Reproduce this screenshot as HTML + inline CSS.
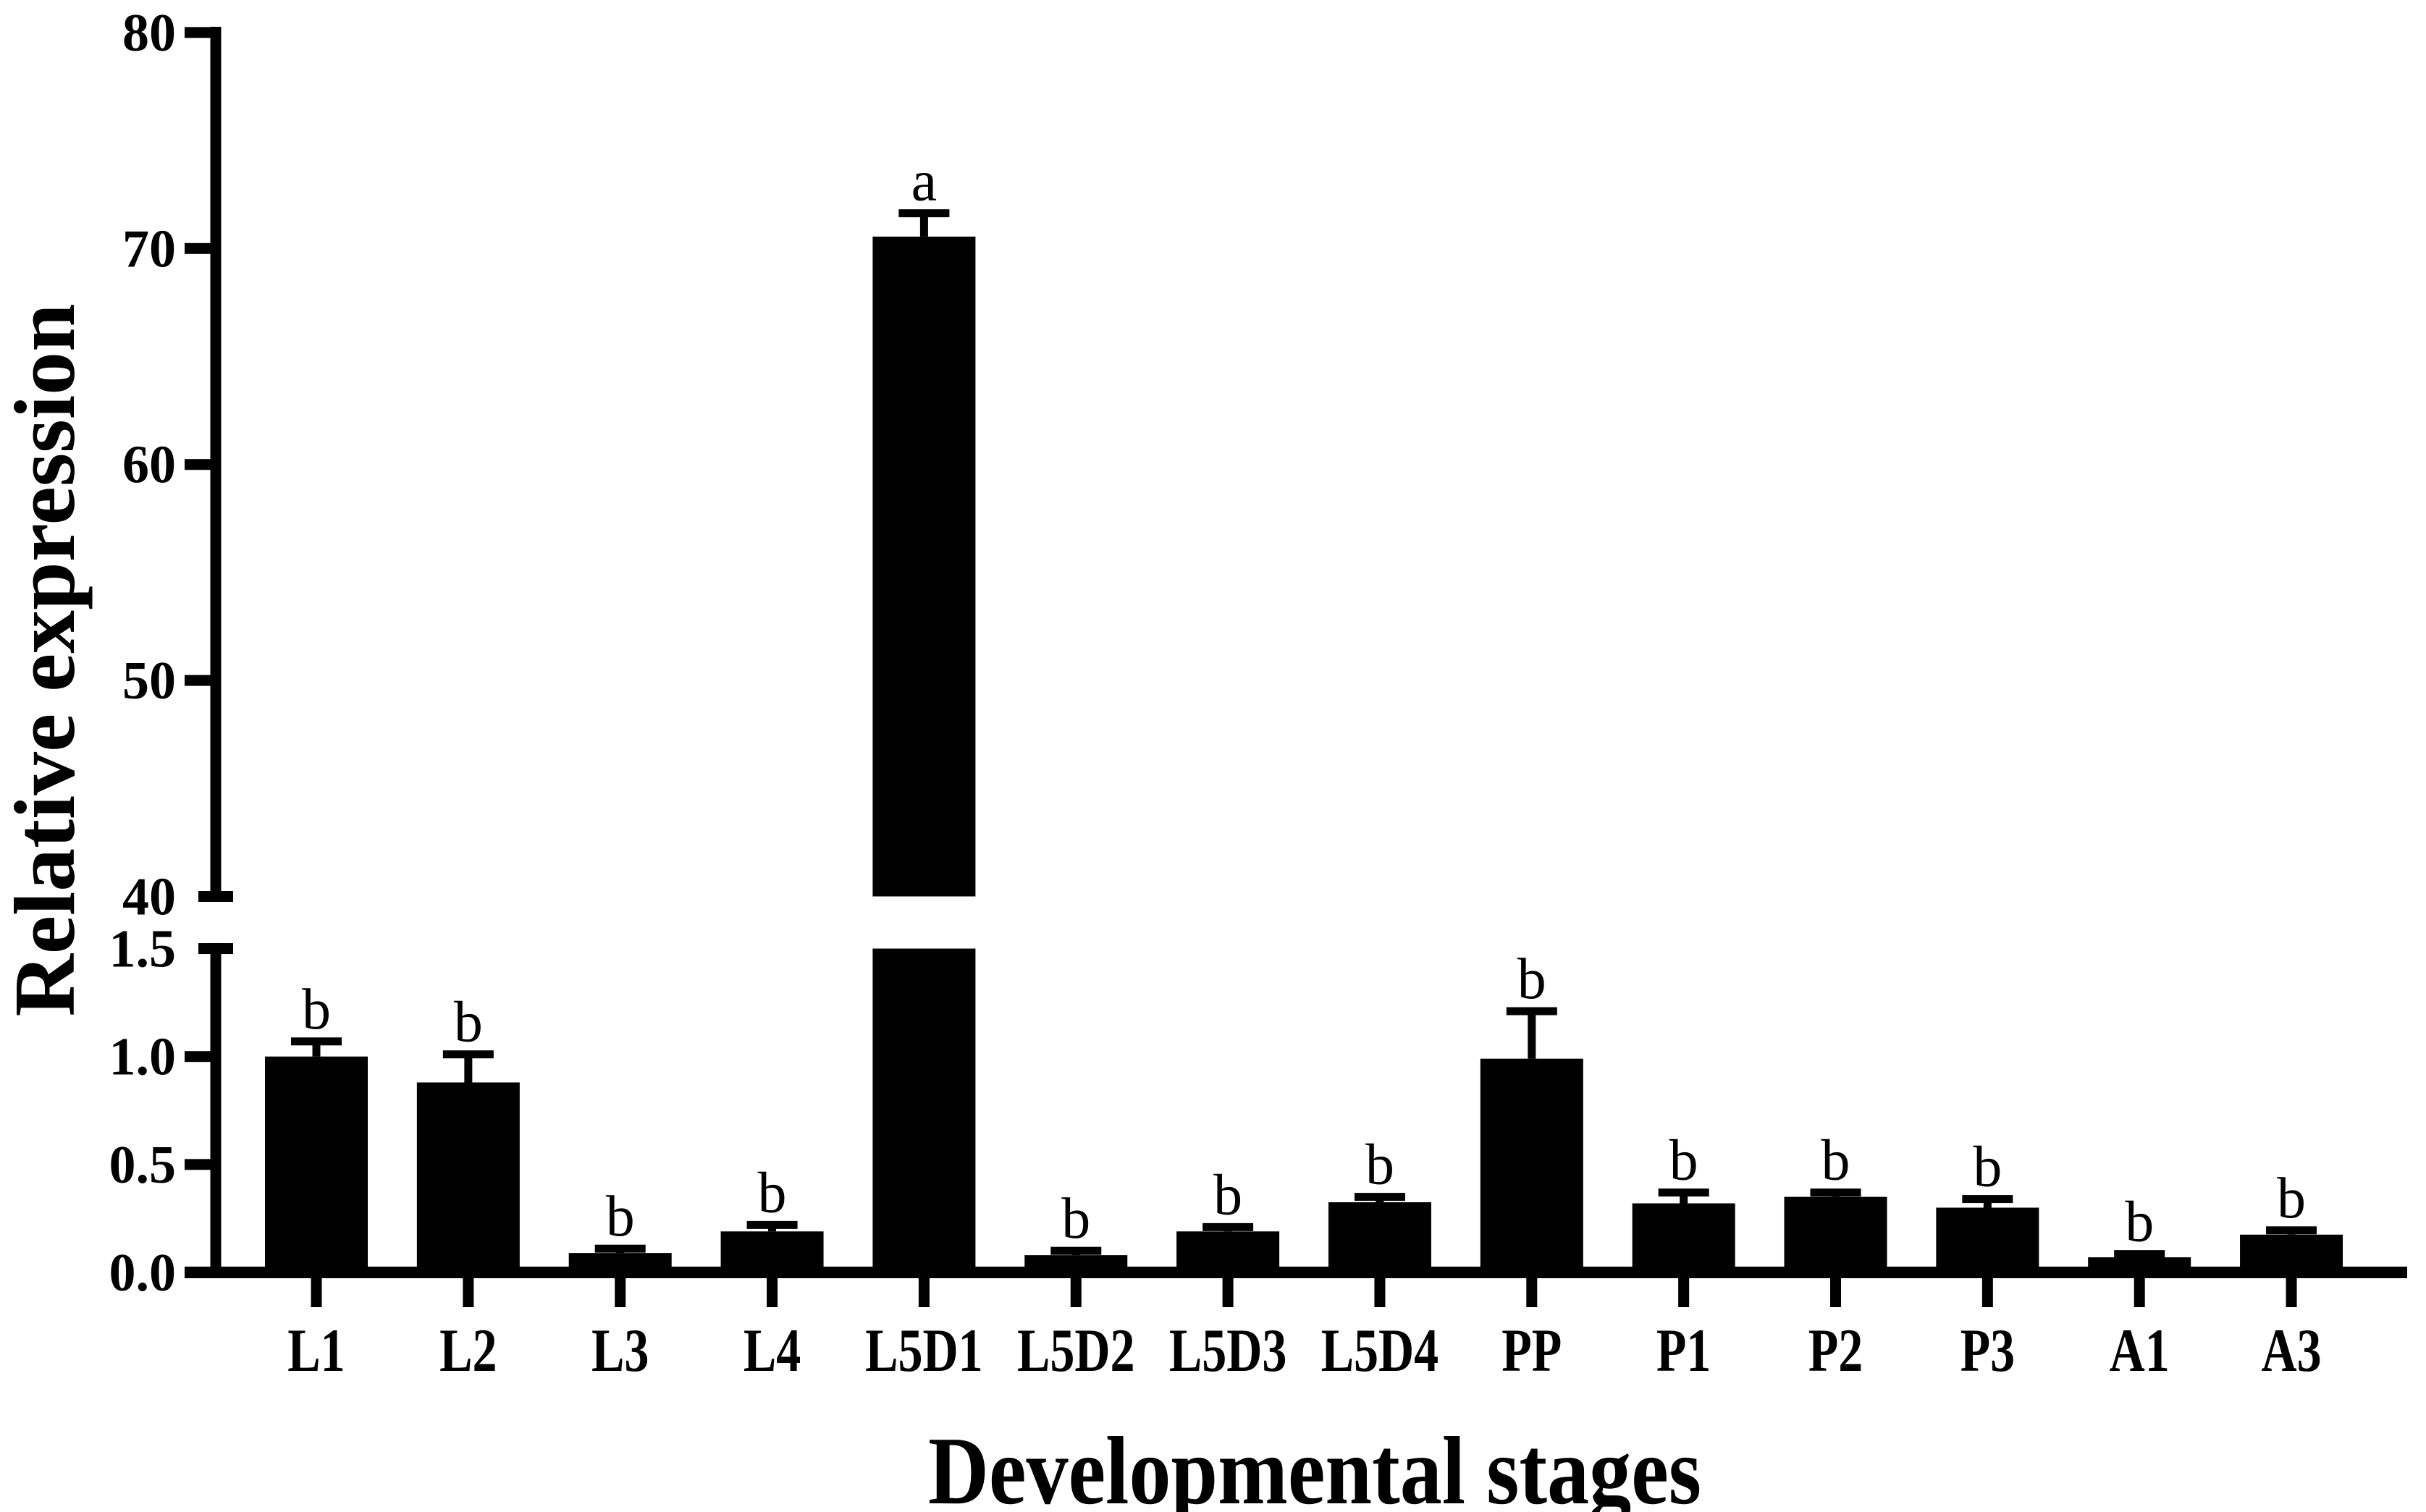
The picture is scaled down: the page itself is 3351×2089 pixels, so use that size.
<!DOCTYPE html>
<html>
<head>
<meta charset="utf-8">
<style>
  html,body{margin:0;padding:0;background:#fff;}
  svg{display:block;}
  text{font-family:"Liberation Serif","Times New Roman",serif;fill:#000;}
</style>
</head>
<body>
<svg id="chart" width="3351" height="2089" viewBox="0 0 3351 2089" xmlns="http://www.w3.org/2000/svg">
  <rect width="3351" height="2089" fill="#fff"/>
  <g id="axes"></g>
  <g id="bars"></g>
  <g id="labels"></g>
  <text id="ytitle" font-weight="bold" font-size="120" text-anchor="middle" transform="translate(102,912) rotate(-90)" textLength="985" lengthAdjust="spacingAndGlyphs">Relative expression</text>
  <text id="xtitle" font-weight="bold" font-size="134" text-anchor="middle" x="1816" y="2077" textLength="1068" lengthAdjust="spacingAndGlyphs">Developmental stages</text>
</svg>
<script>
const categories = ["L1","L2","L3","L4","L5D1","L5D2","L5D3","L5D4","PP","P1","P2","P3","A1","A3"];
const means = [1.0, 0.88, 0.09, 0.19, 70.55, 0.08, 0.19, 0.325, 0.99, 0.32, 0.35, 0.30, 0.07, 0.175];
const errTops = [1.07, 1.01, 0.11, 0.22, 71.63, 0.10, 0.21, 0.35, 1.21, 0.37, 0.37, 0.34, 0.085, 0.195];
const sigLetters = ["b","b","b","b","a","b","b","b","b","b","b","b","b","b"];
const lowerTicks = [0, 0.5, 1.0, 1.5];
const lowerTickLabels = ["0.0","0.5","1.0","1.5"];
const upperTicks = [40, 50, 60, 70, 80];
const upperTickLabels = ["40","50","60","70","80"];

const NS = "http://www.w3.org/2000/svg";
const axisX = 298;
const xAxisEnd = 3325;
// lower segment: 0..1.5
const yLow = v => 1758 - (v - 0) * 298.3;
// upper segment: 40..80
const yUp = v => 1238.5 - (v - 40) * 29.84;
const LOW_MAX = 1.5, UP_MIN = 40;
const xPos = i => 437 + i * 209.85;
const barW = 142;
const capW = 70;

function mk(tag, attrs, parent){
  const e = document.createElementNS(NS, tag);
  for (const k in attrs) e.setAttribute(k, attrs[k]);
  parent.appendChild(e);
  return e;
}
const axes = document.getElementById('axes');
const bars = document.getElementById('bars');
const labels = document.getElementById('labels');

// y axis segments
let ya = mk('rect', {x: axisX-7.5, y: 37, width: 15, height: 1246-37, fill:'#000'}, axes);


let yb = mk('rect', {x: axisX-7.5, y: 1303, width: 15, height: 1766-1303, fill:'#000'}, axes);


// break caps
let c1 = mk('rect', {x: 274, y: yUp(UP_MIN)-7.5, width: 48, height: 15, fill:'#000'}, axes);


let c2 = mk('rect', {x: 274, y: yLow(LOW_MAX)-7.5, width: 48, height: 15, fill:'#000'}, axes);


// x axis
let xa = mk('rect', {x: 291, y: 1750, width: xAxisEnd-291, height: 16, fill:'#000'}, axes);



// y ticks
upperTicks.forEach((v, i) => {
  if (v !== UP_MIN) {
    const t = mk('rect', {x: 255, y: yUp(v)-7.5, width: axisX-255, height: 15, fill:'#000'}, axes);
    
    
  }
  const l = mk('text', {x: 243, y: yUp(v)+25, 'font-size': 74, 'font-weight': 'bold', 'text-anchor': 'end'}, labels);
  l.textContent = upperTickLabels[i];
  
  
});
lowerTicks.forEach((v, i) => {
  if (v !== LOW_MAX && v !== 0) {
    const t = mk('rect', {x: 255, y: yLow(v)-7.5, width: axisX-255, height: 15, fill:'#000'}, axes);
    
    
  }
  if (v === 0) {
    const t = mk('rect', {x: 255, y: yLow(v)-8, width: axisX-255, height: 16, fill:'#000'}, axes);
    
    
  }
  const l = mk('text', {x: 243, y: yLow(v)+25, 'font-size': 74, 'font-weight': 'bold', 'text-anchor': 'end'}, labels);
  l.textContent = lowerTickLabels[i];
  
  
});

// bars
categories.forEach((c, i) => {
  const cx = xPos(i);
  const m = means[i], e = errTops[i];
  const yAxis0 = yLow(0);
  if (m > LOW_MAX) {
    const b1 = mk('rect', {x: cx-barW/2, y: yLow(LOW_MAX), width: barW, height: yAxis0 - yLow(LOW_MAX), fill:'#000'}, bars);
    
    
    const b2 = mk('rect', {x: cx-barW/2, y: yUp(m), width: barW, height: yUp(UP_MIN) - yUp(m), fill:'#000'}, bars);
    
    
  } else {
    const b = mk('rect', {x: cx-barW/2, y: yLow(m), width: barW, height: yAxis0 - yLow(m), fill:'#000'}, bars);
    
    
  }
  const ym = m > LOW_MAX ? yUp(m) : yLow(m);
  const ye = e > LOW_MAX ? yUp(e) : yLow(e);
  const st = mk('rect', {x: cx-5.5, y: ye, width: 11, height: Math.max(0, ym - ye), fill:'#000'}, bars);
  
  
  const cap = mk('rect', {x: cx-capW/2, y: ye-5.5, width: capW, height: 11, fill:'#000'}, bars);
  
  
  const sg = mk('text', {x: cx, y: ye-18, 'font-size': 80, 'text-anchor': 'middle'}, labels);
  sg.textContent = sigLetters[i];
  
  
  // x tick
  const tk = mk('rect', {x: cx-7.5, y: 1758, width: 15, height: 48, fill:'#000'}, axes);
  
  
  const xl = mk('text', {x: cx, y: 1894, 'font-size': 85, 'font-weight': 'bold', 'text-anchor': 'middle'}, labels);
  xl.textContent = c;
  
  
  const w = xl.getComputedTextLength();
  if (w > 0) {
    xl.setAttribute('textLength', (w * 0.8).toFixed(1));
    xl.setAttribute('lengthAdjust', 'spacingAndGlyphs');
  }
});
</script>
</body>
</html>
